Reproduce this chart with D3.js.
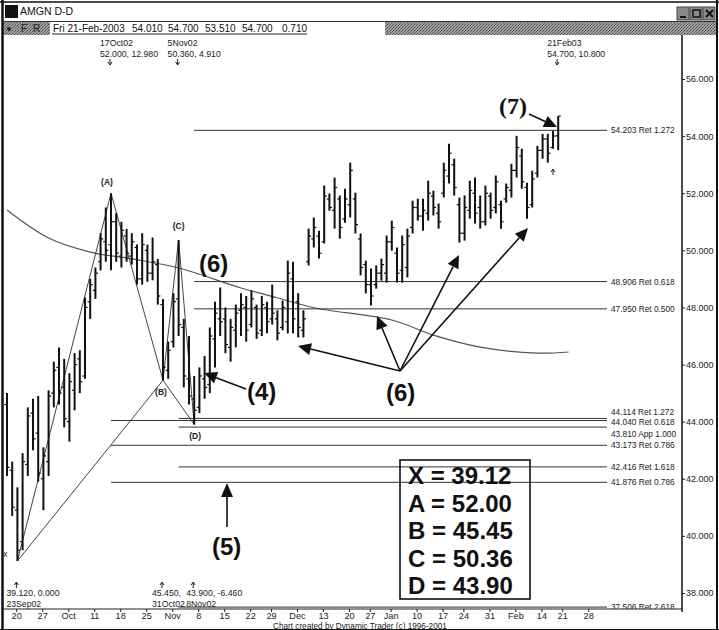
<!DOCTYPE html>
<html><head><meta charset="utf-8">
<script src="https://cdn.jsdelivr.net/npm/d3@7"></script>
<style>body{margin:0;background:#fff}svg{display:block}</style>
</head><body><script>
// ---------- calendar (trading sessions) ----------
const tradingDays = [
"2002-09-18","2002-09-19","2002-09-20","2002-09-23","2002-09-24","2002-09-25","2002-09-26","2002-09-27","2002-09-30",
"2002-10-01","2002-10-02","2002-10-03","2002-10-04","2002-10-07","2002-10-08","2002-10-09","2002-10-10","2002-10-11",
"2002-10-14","2002-10-15","2002-10-16","2002-10-17","2002-10-18","2002-10-21","2002-10-22","2002-10-23","2002-10-24",
"2002-10-25","2002-10-28","2002-10-29","2002-10-30","2002-10-31",
"2002-11-01","2002-11-04","2002-11-05","2002-11-06","2002-11-07","2002-11-08","2002-11-11","2002-11-12","2002-11-13",
"2002-11-14","2002-11-15","2002-11-18","2002-11-19","2002-11-20","2002-11-21","2002-11-22","2002-11-25","2002-11-26",
"2002-11-27","2002-11-29",
"2002-12-02","2002-12-03","2002-12-04","2002-12-05","2002-12-06","2002-12-09","2002-12-10","2002-12-11","2002-12-12",
"2002-12-13","2002-12-16","2002-12-17","2002-12-18","2002-12-19","2002-12-20","2002-12-23","2002-12-24","2002-12-26",
"2002-12-27","2002-12-30","2002-12-31",
"2003-01-02","2003-01-03","2003-01-06","2003-01-07","2003-01-08","2003-01-09","2003-01-10","2003-01-13","2003-01-14",
"2003-01-15","2003-01-16","2003-01-17","2003-01-21","2003-01-22","2003-01-23","2003-01-24","2003-01-27","2003-01-28",
"2003-01-29","2003-01-30","2003-01-31",
"2003-02-03","2003-02-04","2003-02-05","2003-02-06","2003-02-07","2003-02-10","2003-02-11","2003-02-12","2003-02-13",
"2003-02-14","2003-02-18","2003-02-19","2003-02-20","2003-02-21","2003-02-24","2003-02-25","2003-02-26","2003-02-27",
"2003-02-28"];

// ---------- OHLC bars, AMGN daily, 19-Sep-2002 .. 21-Feb-2003 ----------
const firstBarDate = "2002-09-19";
const highs = [45.0,42.6,41.7,42.9,44.5,44.8,44.9,43.1,45.1,46.1,46.6,46.2,45.7,46.4,46.5,48.35,49.0,49.4,50.6,51.5,
52.0,51.3,51.0,50.75,50.6,50.2,50.6,50.2,50.45,49.7,48.3,46.8,48.5,50.36,47.6,47.0,45.6,45.9,46.3,47.3,
48.2,48.7,48.0,47.6,48.1,48.5,48.4,48.6,48.1,48.4,48.2,48.8,47.9,48.24,49.64,49.6,48.5,47.9,50.76,51.15,
50.69,52.27,51.99,52.55,51.92,52.16,53.07,52.02,50.59,49.64,49.36,49.47,49.71,50.52,51.04,50.10,50.52,50.76,51.74,51.81,
51.81,52.44,52.09,51.64,53.07,53.73,53.21,51.85,51.92,52.44,52.55,51.92,52.27,52.02,52.62,51.74,52.34,53.03,54.01,53.56,
52.37,52.79,53.66,54.08,54.08,54.19,54.70];
const lows = [42.1,40.7,39.12,39.5,42.1,43.0,41.9,40.9,42.1,44.5,44.6,43.8,43.3,44.4,45.0,45.5,47.6,48.3,49.3,49.6,
49.3,49.6,49.4,49.6,49.5,48.8,48.8,48.9,48.95,48.1,45.45,45.5,46.6,47.0,45.2,44.6,43.9,44.3,44.8,45.0,
45.9,47.0,46.4,46.1,46.6,47.0,46.8,47.3,46.9,47.0,47.1,47.4,46.85,47.2,47.09,47.1,46.95,46.95,49.47,50.10,
49.71,50.24,51.39,50.76,50.41,50.97,51.15,50.59,49.12,48.49,48.07,48.66,48.94,48.87,49.99,48.87,48.87,49.05,50.59,51.04,
50.69,51.04,51.22,50.76,51.85,52.34,51.92,50.27,50.34,51.11,50.94,50.76,50.87,51.11,51.29,50.76,51.67,51.85,52.55,52.16,
51.11,51.50,52.55,53.21,53.07,53.56,53.51];
const opens = [44.6,42.3,40.9,39.8,42.5,44.3,43.6,42.0,42.6,45.0,45.9,45.2,44.0,45.1,46.2,45.6,48.2,48.6,49.6,50.3,
50.2,51.0,49.8,50.5,49.8,50.1,49.0,50.0,49.2,49.5,48.1,45.8,46.8,48.3,47.3,45.5,44.8,44.5,45.5,45.3,
46.9,47.6,47.6,46.6,47.2,47.9,48.0,47.4,48.0,47.2,48.0,47.6,47.6,47.3,47.5,49.0,48.2,47.2,49.6,50.4,
50.5,50.3,51.8,51.4,51.8,51.1,51.6,51.8,50.4,49.5,48.8,48.8,49.2,49.2,50.3,49.9,49.3,49.4,50.8,51.5,
51.2,51.3,51.9,51.3,52.0,52.6,53.0,51.6,50.6,51.4,52.0,51.5,51.0,51.9,51.5,51.6,51.8,52.1,52.8,53.3,
52.2,51.6,52.7,53.5,53.9,53.6,54.01];
const closes = [42.4,41.0,39.5,42.6,44.2,43.4,42.2,42.8,44.9,45.8,45.0,44.1,45.4,46.0,45.4,48.0,48.8,49.2,50.4,50.0,
51.0,49.9,50.7,49.9,50.3,49.0,50.2,49.2,49.6,48.4,45.9,46.5,48.2,47.4,45.6,44.9,44.4,45.6,45.2,47.0,
47.8,47.5,46.7,47.3,47.8,48.1,47.2,48.3,47.1,48.1,47.5,47.8,47.1,48.0,49.2,47.6,47.3,47.6,50.5,50.8,
49.9,51.9,51.5,52.2,50.8,51.8,52.8,50.9,49.4,48.8,48.4,49.2,49.5,50.3,50.8,49.2,50.2,50.5,51.5,51.2,
51.4,52.0,51.5,51.0,52.8,53.4,52.2,50.6,51.5,52.1,51.3,51.0,52.0,51.4,52.4,51.0,52.2,52.8,53.6,52.4,
51.5,52.5,53.5,53.9,53.4,54.0,54.70];

// ---------- long moving average (read at sample sessions) ----------
const maDates  = ["2002-09-19","2002-10-01","2002-10-11","2002-10-23","2002-11-05","2002-11-21","2002-12-03",
                  "2002-12-12","2003-01-06","2003-01-16","2003-01-30","2003-02-14","2003-02-25"];
const maValues = [51.41,50.43,49.94,49.70,49.38,48.68,48.34,47.99,47.56,47.03,46.61,46.40,46.44];

// ---------- XABCD pattern ----------
const pivotNames  = ["X","A","B","C","D"];
const pivotDates  = ["2002-09-23","2002-10-17","2002-10-31","2002-11-05","2002-11-08"];
const pivotValues = [39.12,52.00,45.45,50.36,43.90];

// ---------- Fibonacci levels ----------
const fibValues = [54.203,48.906,47.950,44.114,44.040,43.810,43.173,42.416,41.876,37.506];
const fibLabels = ["54.203 Ret 1.272","48.906 Ret 0.618","47.950 Ret 0.500","44.114 Ret 1.272","44.040 Ret 0.618",
                   "43.810 App 1.000","43.173 Ret 0.786","42.416 Ret 1.618","41.876 Ret 0.786","37.506 Ret 2.618"];
const fibStart  = ["2002-11-08","2002-11-08","2002-11-08","2002-11-05","2002-10-17","2002-11-05","2002-10-17",
                   "2002-11-05","2002-10-17","2002-11-05"];

// ---------- axis ticks ----------
const tickDays = ["2002-09-20","2002-09-27","2002-10-04","2002-10-11","2002-10-18","2002-10-25","2002-11-01","2002-11-08",
"2002-11-15","2002-11-22","2002-11-29","2002-12-06","2002-12-13","2002-12-20","2002-12-27","2003-01-03","2003-01-10",
"2003-01-17","2003-01-24","2003-01-31","2003-02-07","2003-02-14","2003-02-21","2003-02-28"];
const tickLabels = ["20","27","Oct","11","18","25","Nov","8","15","22","29","Dec","13","20","27","Jan","10","17","24","31","Feb","14","21","28"];
const priceTicks = [38,40,42,44,46,48,50,52,54,56];

// ---------- pivot annotations ----------
const topNoteDates = ["2002-10-17","2002-11-05","2003-02-21"];
const topNoteLine1 = ["17Oct02","5Nov02","21Feb03"];
const topNoteLine2 = ["52.000, 12.980","50.360, 4.910","54.700, 10.800"];
const botNoteDates = ["2002-09-23","2002-10-31","2002-11-08"];
const botNoteLine1 = ["39.120, 0.000","45.450,","43.900, -6.460"];
const botNoteLine2 = ["23Sep02","31Oct02","8Nov02"];

const boxLines = ["X = 39.12","A = 52.00","B = 45.45","C = 50.36","D = 43.90"];
const headerValues = ["Fri 21-Feb-2003","54.010","54.700","53.510","54.700","0.710"];

// =====================================================================
const W = 719, H = 630;
const FONT = "'Liberation Sans', Arial, sans-serif";
const svg = d3.select("body").append("svg").attr("width", W).attr("height", H)
  .style("font-family", FONT);

const x = d3.scalePoint().domain(tradingDays).range([1.8, 584.2]);
const y = d3.scaleLinear().domain([38, 56]).range([593, 79]);

const defs = svg.append("defs");
const pat = defs.append("pattern").attr("id","stip").attr("width",3).attr("height",3).attr("patternUnits","userSpaceOnUse");
pat.append("rect").attr("width",3).attr("height",3).attr("fill","#a0a0a0");
pat.append("rect").attr("width",1).attr("height",1).attr("fill","#4a4a4a");
pat.append("rect").attr("x",2).attr("y",1).attr("width",1).attr("height",1).attr("fill","#5a5a5a");
pat.append("rect").attr("x",1).attr("y",2).attr("width",1).attr("height",1).attr("fill","#6a6a6a");
defs.append("clipPath").attr("id","plotclip").append("rect").attr("x",4).attr("y",36).attr("width",677).attr("height",573);

// ---------- window chrome ----------
svg.append("rect").attr("width",W).attr("height",H).attr("fill","#fff");
svg.append("rect").attr("x",5).attr("y",5).attr("width",13).attr("height",13).attr("fill","#111");
svg.append("text").attr("x",20).attr("y",15).attr("font-size",10.5).attr("fill","#111").text("AMGN D-D");
const btn = svg.append("g");
[677,690,703].forEach((bx,i)=>{
  btn.append("rect").attr("x",bx).attr("y",7).attr("width",12).attr("height",13).attr("fill","#8a8a8a").attr("stroke","#444");
});
btn.append("line").attr("x1",680).attr("x2",686).attr("y1",17).attr("y2",17).attr("stroke","#111").attr("stroke-width",2);
btn.append("rect").attr("x",693).attr("y",10).attr("width",7).attr("height",7).attr("fill","none").attr("stroke","#111").attr("stroke-width",1.5);
btn.append("path").attr("d","M706,10L713,17M713,10L706,17").attr("stroke","#111").attr("stroke-width",2);

svg.append("rect").attr("x",3).attr("y",22).attr("width",714).attr("height",13).attr("fill","url(#stip)");
svg.append("rect").attr("x",50).attr("y",22).attr("width",335).attr("height",13).attr("fill","#fff");
svg.append("circle").attr("cx",9).attr("cy",29).attr("r",2).attr("fill","#222");
svg.append("text").attr("x",21).attr("y",32).attr("font-size",10).attr("fill","#222").text("F");
svg.append("text").attr("x",33).attr("y",32).attr("font-size",10).attr("fill","#222").text("R");
const hdrX = [53,132,168,205,242,282];
svg.append("g").selectAll("text").data(headerValues).join("text")
  .attr("x",(d,i)=>hdrX[i]).attr("y",32).attr("font-size",10).attr("fill","#111").text(d=>d);
svg.append("line").attr("x1",52).attr("x2",307).attr("y1",34).attr("y2",34).attr("stroke","#222");

// frame lines
svg.append("line").attr("x1",0).attr("x2",W).attr("y1",2).attr("y2",2).attr("stroke","#111").attr("stroke-width",1.5);
svg.append("line").attr("x1",2.5).attr("x2",2.5).attr("y1",0).attr("y2",H).attr("stroke","#111").attr("stroke-width",2.5);
svg.append("line").attr("x1",717).attr("x2",717).attr("y1",0).attr("y2",H).attr("stroke","#111").attr("stroke-width",2);
svg.append("line").attr("x1",0).attr("x2",W).attr("y1",629.5).attr("y2",629.5).attr("stroke","#111").attr("stroke-width",1.2);
svg.append("line").attr("x1",3).attr("x2",717).attr("y1",21.5).attr("y2",21.5).attr("stroke","#333");

// ---------- plot ----------
const plot = svg.append("g").attr("clip-path","url(#plotclip)");

// moving average
plot.append("path")
  .datum(maDates.map((d,i)=>[x(d), y(maValues[i])]))
  .attr("fill","none").attr("stroke","#555").attr("stroke-width",1.2)
  .attr("d", d3.line().curve(d3.curveCatmullRom));

// fib levels (labels of the three tightly packed levels are stacked so they stay readable)
const labelNudge = {3:-6, 4:1, 5:7};
const fibG = plot.append("g");
fibValues.forEach((v,i)=>{
  fibG.append("line").attr("x1",x(fibStart[i])).attr("x2",607).attr("y1",y(v)).attr("y2",y(v))
    .attr("stroke","#333").attr("stroke-width",1);
  fibG.append("text").attr("x",611).attr("y",y(v)+3+(labelNudge[i]||0)).attr("font-size",8.3).attr("fill","#222").text(fibLabels[i]);
});

// zigzag
const pivots = pivotNames.map((n,i)=>({n, px:x(pivotDates[i]), py:y(pivotValues[i])}));
const P = Object.fromEntries(pivots.map(p=>[p.n,p]));
const segs = [["X","A"],["A","B"],["B","C"],["C","D"],["X","B"],["B","D"]];
plot.append("g").selectAll("line").data(segs).join("line")
  .attr("x1",s=>P[s[0]].px).attr("y1",s=>P[s[0]].py).attr("x2",s=>P[s[1]].px).attr("y2",s=>P[s[1]].py)
  .attr("stroke","#444").attr("stroke-width",1);

// OHLC bars
const bars = highs.map((h,k)=>({
  date: tradingDays[tradingDays.indexOf(firstBarDate)+k], o:opens[k], h, l:lows[k], c:closes[k]}));
const bg = plot.append("g").attr("stroke","#111");
bg.selectAll("line.hl").data(bars).join("line").attr("class","hl")
  .attr("x1",d=>x(d.date)).attr("x2",d=>x(d.date)).attr("y1",d=>y(d.h)).attr("y2",d=>y(d.l)).attr("stroke-width",2);
bg.selectAll("line.op").data(bars).join("line").attr("class","op")
  .attr("x1",d=>x(d.date)-2.6).attr("x2",d=>x(d.date)).attr("y1",d=>y(d.o)).attr("y2",d=>y(d.o)).attr("stroke-width",1.2);
bg.selectAll("line.cl").data(bars).join("line").attr("class","cl")
  .attr("x1",d=>x(d.date)).attr("x2",d=>x(d.date)+2.6).attr("y1",d=>y(d.c)).attr("y2",d=>y(d.c)).attr("stroke-width",1.2);

// pivot labels
const pl = plot.append("g").attr("font-size",8.5).attr("font-weight","bold").attr("fill","#222").attr("text-anchor","middle");
pl.append("text").attr("x",P.A.px-4).attr("y",P.A.py-8).text("(A)");
pl.append("text").attr("x",P.B.px-2).attr("y",P.B.py+15).text("(B)");
pl.append("text").attr("x",P.C.px).attr("y",P.C.py-11).text("(C)");
pl.append("text").attr("x",P.D.px+1).attr("y",P.D.py+14).text("(D)");
pl.append("text").attr("x",P.X.px-12).attr("y",P.X.py-4).attr("font-weight","normal").text("x");

// ---------- axes ----------
svg.append("line").attr("x1",682).attr("x2",682).attr("y1",35).attr("y2",612).attr("stroke","#111").attr("stroke-width",1.5);
svg.append("line").attr("x1",3).attr("x2",682).attr("y1",609).attr("y2",609).attr("stroke","#222").attr("stroke-width",1.2);

const yAxis = svg.append("g").attr("transform","translate(682,0)")
  .call(d3.axisRight(y).tickValues(priceTicks).tickFormat(d3.format(".3f")).tickSize(3).tickPadding(1));
yAxis.select(".domain").remove();
yAxis.selectAll("text").attr("font-size",9).attr("font-family",FONT).attr("fill","#222");
yAxis.selectAll("line").attr("stroke","#222");

const xAxis = svg.append("g").attr("transform","translate(4,609)")
  .call(d3.axisBottom(x).tickValues(tickDays).tickFormat((d,i)=>tickLabels[i]).tickSize(3).tickPadding(1));
xAxis.select(".domain").remove();
xAxis.selectAll("text").attr("font-size",9.2).attr("font-family",FONT).attr("fill","#222").attr("y",9.5).attr("dy",0);
xAxis.selectAll("line").attr("stroke","#222");

svg.append("text").attr("x",273).attr("y",628.5).attr("font-size",8.2).attr("fill","#222")
  .text("Chart created by Dynamic Trader (c) 1996-2001");

// ---------- pivot notes ----------
const notes = svg.append("g").attr("font-size",8.7).attr("fill","#222");
topNoteDates.forEach((d,i)=>{
  const px = x(d);
  notes.append("text").attr("x",px-11).attr("y",46).text(topNoteLine1[i]);
  notes.append("text").attr("x",px-11).attr("y",57).text(topNoteLine2[i]);
  notes.append("path").attr("d",`M${px-1},59V65M${px-3},62L${px-1},65L${px+1},62`).attr("stroke","#222").attr("fill","none");
});
botNoteDates.forEach((d,i)=>{
  const px = x(d);
  const lx = i === 2 ? px-8 : px-11;
  notes.append("text").attr("x",lx).attr("y",596).text(botNoteLine1[i]);
  notes.append("text").attr("x",lx).attr("y",607).text(botNoteLine2[i]);
  notes.append("path").attr("d",`M${px-1},588V582M${px-3},585L${px-1},582L${px+1},585`).attr("stroke","#222").attr("fill","none");
});
// small up arrow under late Feb bar
notes.append("path").attr("d","M553,175V169M551,172L553,169L555,172").attr("stroke","#222").attr("fill","none");

// ---------- hand annotations ----------
const ann = svg.append("g").attr("fill","#111");
function arrow(x1,y1,x2,y2,len=13,half=6){
  const a = Math.atan2(y2-y1,x2-x1), bx = x2-len*Math.cos(a), by = y2-len*Math.sin(a);
  ann.append("line").attr("x1",x1).attr("y1",y1).attr("x2",bx).attr("y2",by).attr("stroke","#111").attr("stroke-width",1.6);
  const nx = -Math.sin(a)*half, ny = Math.cos(a)*half;
  ann.append("path").attr("d",`M${x2},${y2}L${bx+nx},${by+ny}L${bx-nx},${by-ny}Z`);
}
arrow(400,371,298,346);
arrow(400,371,377,316);
arrow(400,371,459,255);
arrow(400,371,528,228);
arrow(246,389,204,373);
arrow(227,527,227,483,14,6);
arrow(529,114,557,127,13,6);

const big = ann.append("g").attr("font-weight","bold").attr("font-size",24);
big.append("text").attr("x",199).attr("y",272).text("(6)");
big.append("text").attr("x",247).attr("y",400).text("(4)");
big.append("text").attr("x",386).attr("y",401).text("(6)");
big.append("text").attr("x",212).attr("y",555).text("(5)");
big.append("text").attr("x",499).attr("y",114).attr("font-family","'Liberation Serif', serif").text("(7)");

// value box
ann.append("rect").attr("x",400).attr("y",460).attr("width",130).attr("height",139)
  .attr("fill","none").attr("stroke","#111").attr("stroke-width",1.6);
ann.append("g").attr("font-weight","bold").attr("font-size",24).selectAll("text").data(boxLines).join("text")
  .attr("x",408).attr("y",(d,i)=>484+i*27.5).text(d=>d);
</script></body></html>
